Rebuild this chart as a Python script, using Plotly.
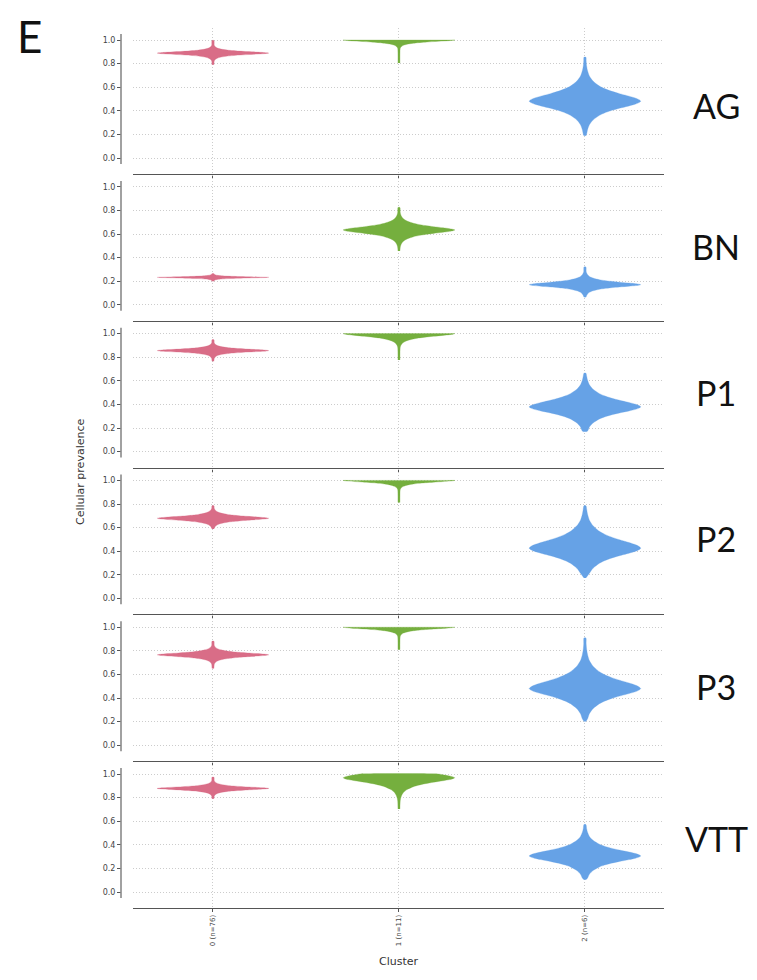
import plotly.graph_objects as go

# ---------------- data ----------------
SAMPLES = ["AG", "BN", "P1", "P2", "P3", "VTT"]
CLUSTERS = ["0 (n=76)", "1 (n=11)", "2 (n=6)"]
COLORS = ["#D96D87", "#75AF3E", "#66A2E6"]

# rows: samples, columns: clusters 0,1,2
MODE = [
    [0.889, 1.000, 0.482],
    [0.233, 0.634, 0.171],
    [0.856, 1.000, 0.379],
    [0.679, 1.000, 0.426],
    [0.766, 1.000, 0.480],
    [0.878, 0.968, 0.306],
]
SPREAD_LO = [
    [0.017, 0.018, 0.080],
    [0.007, 0.038, 0.026],
    [0.017, 0.030, 0.068],
    [0.022, 0.020, 0.085],
    [0.021, 0.020, 0.085],
    [0.017, 0.050, 0.062],
]
SPREAD_HI = [
    [0.017, 0.018, 0.085],
    [0.007, 0.038, 0.028],
    [0.017, 0.030, 0.075],
    [0.022, 0.020, 0.095],
    [0.021, 0.020, 0.095],
    [0.017, 0.050, 0.066],
]
TAIL_LO = [
    [0.790, 0.805, 0.188],
    [0.199, 0.457, 0.065],
    [0.766, 0.777, 0.168],
    [0.589, 0.813, 0.174],
    [0.651, 0.810, 0.202],
    [0.791, 0.704, 0.104],
]
TAIL_HI = [
    [0.996, 1.000, 0.854],
    [0.264, 0.825, 0.320],
    [0.948, 1.000, 0.665],
    [0.785, 1.000, 0.785],
    [0.881, 1.000, 0.909],
    [0.973, 1.000, 0.572],
]
CAP = 1.0  # prevalence cannot exceed 1

# normalised violin outline (offset in spread units -> relative half width)
PROFILE_OFFSET = [0.0, 0.15, 0.3, 0.5, 0.75, 1.0, 1.25, 1.5, 2.0, 2.5, 3.0, 3.5, 4.0]
PROFILE_WIDTH = [1.0, 0.97, 0.91, 0.79, 0.62, 0.47, 0.35, 0.26, 0.145, 0.08, 0.048, 0.03, 0.022]
TAIL_WIDTH = 0.018
HALF_W = 0.30

Y_TICKS = [0.0, 0.2, 0.4, 0.6, 0.8, 1.0]

# ---------------- layout geometry (pixel values in reference coordinates) ----------------
BODY = 8  # page margin of the html body
W, H = 757 - 2 * BODY, 980 - 2 * BODY
REF_LEFT, REF_RIGHT, REF_TOP, REF_BOTTOM = 100, 664, 28, 909
ML = REF_LEFT - BODY
MR = W - (REF_RIGHT - BODY)
MT = REF_TOP - BODY
MB = H - (REF_BOTTOM - BODY)
PW = W - ML - MR
PH = H - MT - MB
X0_PIX = 133
SPINE_PIX = 121
PITCH = 146.8


def px_to_paper_x(px):
    return (px - REF_LEFT) / PW


def py_to_paper_y(py):
    return (REF_BOTTOM - py) / PH


X_DOMAIN_START = px_to_paper_x(X0_PIX)
SPINE_X = px_to_paper_x(SPINE_PIX)


def outline(idx, c, sl, sh, tl, th):
    right = [(tl, TAIL_WIDTH)]
    for k in range(len(PROFILE_OFFSET) - 1, 0, -1):
        y = c - PROFILE_OFFSET[k] * sl
        if y > tl + 0.004:
            right.append((y, PROFILE_WIDTH[k]))
    right.append((c, 1.0))
    capped = False
    for k in range(1, len(PROFILE_OFFSET)):
        y = c + PROFILE_OFFSET[k] * sh
        if y >= CAP:
            right.append((CAP, right[-1][1] * 0.9))
            capped = True
            break
        if y < th - 0.004:
            right.append((y, PROFILE_WIDTH[k]))
    if not capped and c < CAP and th > right[-1][0]:
        right.append((th, TAIL_WIDTH))
    ys = [p[0] for p in right] + [p[0] for p in reversed(right)]
    xs = [idx + HALF_W * p[1] for p in right] + [idx - HALF_W * p[1] for p in reversed(right)]
    return xs, ys


fig = go.Figure()
layout = dict(
    width=W, height=H,
    margin=dict(l=ML, r=MR, t=MT, b=MB),
    paper_bgcolor="white", plot_bgcolor="white",
    showlegend=False,
    font=dict(family="DejaVu Sans", color="#333333"),
)
shapes = []
annotations = []
GRID = dict(showgrid=True, gridcolor="#cccccc", griddash="1px,2px", gridwidth=1)

n = len(SAMPLES)
for i, s in enumerate(SAMPLES):
    top_pix = 28.2 + PITCH * i
    bot_pix = 174.0 + PITCH * i
    sfx = "" if i == 0 else str(i + 1)
    xname, yname = "x" + sfx, "y" + sfx
    for j in range(len(CLUSTERS)):
        xs, ys = outline(j, MODE[i][j], SPREAD_LO[i][j], SPREAD_HI[i][j],
                         TAIL_LO[i][j], TAIL_HI[i][j])
        fig.add_trace(go.Scatter(
            x=xs, y=ys, mode="lines", fill="toself",
            fillcolor=COLORS[j], line=dict(color=COLORS[j], width=0.3, shape="spline", smoothing=0.7),
            xaxis=xname, yaxis=yname, hoverinfo="skip",
        ))
    layout["xaxis" + sfx] = dict(
        domain=[X_DOMAIN_START, 1], anchor=yname, range=[-0.43, 2.425],
        tickvals=[0, 1, 2], ticktext=CLUSTERS, tickangle=-90,
        showticklabels=(i == n - 1),
        tickfont=dict(size=7, color="#444444", family="DejaVu Sans"),
        ticks="outside", ticklen=3, tickcolor="#555555",
        showline=True, linecolor="#555555", linewidth=1,
        zeroline=False, fixedrange=True, **GRID,
    )
    layout["yaxis" + sfx] = dict(
        domain=[py_to_paper_y(bot_pix), py_to_paper_y(top_pix)],
        anchor="free", position=SPINE_X, range=[-0.135, 1.10],
        tickvals=Y_TICKS, ticktext=["%.1f" % v for v in Y_TICKS],
        tickfont=dict(size=8, color="#444444", family="DejaVu Sans"),
        ticks="outside", ticklen=4, tickcolor="#555555",
        showline=False, zeroline=False, fixedrange=True, **GRID,
    )
    shapes.append(dict(type="line", xref="paper", yref=yname,
                       x0=SPINE_X, x1=SPINE_X, y0=-0.05, y1=1.05,
                       line=dict(color="#8a8a8a", width=1.6)))

LABEL_PIX_Y = [105, 246, 392, 538, 686, 838]
for s, py in zip(SAMPLES, LABEL_PIX_Y):
    annotations.append(dict(text=s, xref="paper", yref="paper",
                            x=px_to_paper_x(716), y=py_to_paper_y(py),
                            xanchor="center", yanchor="middle", showarrow=False,
                            font=dict(family="Lato", size=34, color="#111111")))

annotations.append(dict(text="E", xref="paper", yref="paper",
                        x=px_to_paper_x(29), y=py_to_paper_y(8),
                        xanchor="center", yanchor="top", showarrow=False,
                        font=dict(family="Lato", size=44, color="#111111")))
annotations.append(dict(text="Cellular prevalence", xref="paper", yref="paper",
                        x=px_to_paper_x(80), y=py_to_paper_y(472), textangle=-90,
                        xanchor="center", yanchor="middle", showarrow=False,
                        font=dict(family="DejaVu Sans", size=11, color="#333333")))
annotations.append(dict(text="Cluster", xref="paper", yref="paper",
                        x=px_to_paper_x(399), y=py_to_paper_y(962),
                        xanchor="center", yanchor="middle", showarrow=False,
                        font=dict(family="DejaVu Sans", size=11, color="#333333")))

layout["shapes"] = shapes
layout["annotations"] = annotations
fig.update_layout(**layout)
fig.write_html("out.html")
